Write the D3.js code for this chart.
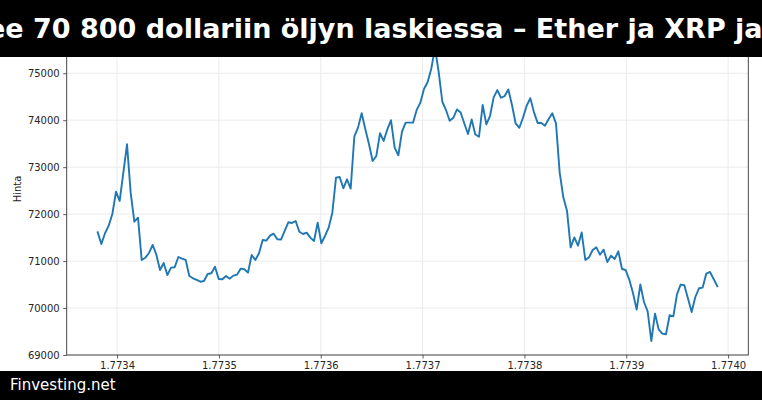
<!DOCTYPE html>
<html>
<head>
<meta charset="utf-8">
<script src="https://cdn.jsdelivr.net/npm/d3@7"></script>
<style>
  html, body { margin: 0; padding: 0; background: #fff; }
  svg { display: block; font-family: "DejaVu Sans", sans-serif; }
</style>
</head>
<body>
<script>
// hourly closes
var prices = [
  71613, 71364, 71592, 71754, 72003, 72478, 72280, 72883, 73488, 72451,
  71839, 71924, 71024, 71072, 71173, 71343, 71136, 70810, 70960, 70704,
  70860, 70868, 71087, 71051, 71024, 70683, 70634, 70598, 70561, 70576,
  70725, 70740, 70881, 70619, 70612, 70683, 70626, 70690, 70711, 70839,
  70825, 70754, 71130, 71024, 71166, 71450, 71435, 71541, 71584, 71464,
  71456, 71641, 71826, 71812, 71854, 71626, 71577, 71605, 71499, 71428,
  71818, 71379, 71535, 71712, 72031, 72777, 72791, 72550, 72742, 72543,
  73650, 73842, 74148, 73807, 73488, 73132, 73239, 73722, 73558, 73807,
  73999, 73416, 73254, 73756, 73948, 73948, 73948, 74219, 74372, 74664,
  74813, 75102, 75540, 75030, 74393, 74216, 73988, 74052, 74229, 74165,
  73931, 73705, 74016, 73697, 73648, 74323, 73910, 74089, 74485, 74642,
  74478, 74514, 74655, 74323, 73931, 73839, 74052, 74308, 74470, 74167,
  73942, 73942, 73884, 74027, 74146, 73933, 72889, 72357, 72074, 71292,
  71505, 71328, 71611, 71024, 71079, 71236, 71292, 71136, 71243, 70981,
  71115, 71045, 71207, 70832, 70810, 70600, 70321, 69967, 70500, 70129,
  69931, 69298, 69882, 69547, 69456, 69441, 69846, 69824, 70293, 70500,
  70485, 70201, 69916, 70235, 70421, 70436, 70734, 70768, 70619, 70463
];
var startTime = 1773381000;   // unix seconds of first sample
var stepSeconds = 3600;       // one sample per hour
var xTicks = [1773400000, 1773500000, 1773600000, 1773700000, 1773800000, 1773900000, 1774000000];
var yTicks = [69000, 70000, 71000, 72000, 73000, 74000, 75000];
var titleText = "ee 70 800 dollariin öljyn laskiessa – Ether ja XRP ja";
var footerText = "Finvesting.net";
var yLabel = "Hinta";

function draw() {
  var W = 762, H = 400;
  var m = { left: 66.7, right: 748.3, top: 23, bottom: 355 };

  var series = prices.map(function(p, i) { return { t: startTime + i * stepSeconds, v: p }; });

  var svg = d3.select("body").append("svg").attr("width", W).attr("height", H);

  var tExt = d3.extent(series, function(d) { return d.t; });
  var pad = (tExt[1] - tExt[0]) * 0.05;
  var x = d3.scaleLinear().domain([tExt[0] - pad, tExt[1] + pad]).range([m.left, m.right]);
  var y = d3.scaleLinear().domain([69000, 76070]).range([m.bottom, m.top]);

  var grid = svg.append("g");
  grid.selectAll(".gy").data(yTicks).enter().append("line")
    .attr("x1", m.left).attr("x2", m.right)
    .attr("y1", function(d) { return y(d); }).attr("y2", function(d) { return y(d); })
    .attr("stroke", "#ebebeb").attr("stroke-width", 1);
  grid.selectAll(".gx").data(xTicks).enter().append("line")
    .attr("y1", m.top).attr("y2", m.bottom)
    .attr("x1", function(d) { return x(d); }).attr("x2", function(d) { return x(d); })
    .attr("stroke", "#ebebeb").attr("stroke-width", 1);

  var line = d3.line().x(function(d) { return x(d.t); }).y(function(d) { return y(d.v); });
  svg.append("path").datum(series)
    .attr("d", line).attr("fill", "none")
    .attr("stroke", "#1f77b4").attr("stroke-width", 1.9)
    .attr("stroke-linejoin", "round").attr("stroke-linecap", "square");

  var yAxis = svg.append("g").attr("transform", "translate(" + m.left + ",0)")
    .call(d3.axisLeft(y).tickValues(yTicks).tickSize(3.5).tickPadding(3.5).tickFormat(d3.format("d")));
  var xAxis = svg.append("g").attr("transform", "translate(0," + m.bottom + ")")
    .call(d3.axisBottom(x).tickValues(xTicks).tickSize(3.5).tickPadding(3.5)
      .tickFormat(function(d) { return (d / 1e9).toFixed(4); }));
  [yAxis, xAxis].forEach(function(a) {
    a.selectAll("text").attr("font-size", 10).attr("fill", "#262626").attr("font-family", "DejaVu Sans");
    a.selectAll("line").attr("stroke", "#333").attr("stroke-width", 0.8);
    a.select(".domain").remove();
  });

  svg.append("rect").attr("x", m.left).attr("y", m.top)
    .attr("width", m.right - m.left).attr("height", m.bottom - m.top)
    .attr("fill", "none").attr("stroke", "#333").attr("stroke-width", 0.9);

  svg.append("text").attr("transform", "translate(20.5," + ((m.top + m.bottom) / 2) + ") rotate(-90)")
    .attr("text-anchor", "middle").attr("font-size", 10).attr("fill", "#262626").text(yLabel);

  // title band
  svg.append("rect").attr("x", 0).attr("y", 0).attr("width", W).attr("height", 57).attr("fill", "#000");
  svg.append("text").attr("x", -13).attr("y", 37.5).attr("font-size", 27).attr("font-weight", "bold")
    .attr("fill", "#fff").text(titleText);

  // footer band
  svg.append("rect").attr("x", 0).attr("y", 371).attr("width", W).attr("height", H - 371).attr("fill", "#000");
  svg.append("text").attr("x", 10).attr("y", 390).attr("font-size", 15)
    .attr("fill", "#fff").text(footerText);
}

draw();
</script>
</body>
</html>
